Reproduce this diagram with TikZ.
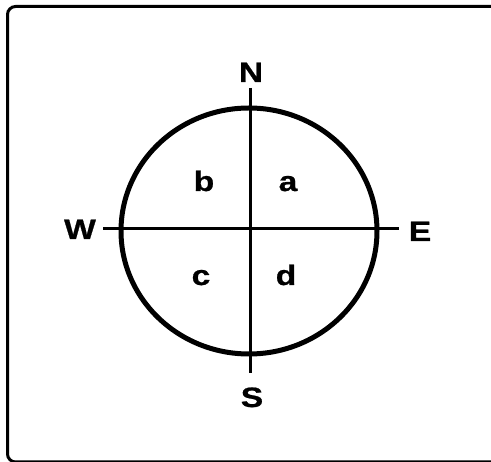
\documentclass[tikz,border=0pt]{standalone}
\usepackage{fontspec}
\setmainfont{Liberation Sans}
\newfontfamily\widefont{Liberation Sans}[FakeStretch=1.2, FakeBold=0.8]
\usetikzlibrary{positioning}

\begin{document}
\begin{tikzpicture}[x=1pt, y=-1pt,
        lbl/.style={font=\widefont\fontsize{28}{28}\selectfont\bfseries,
                    inner sep=0pt, anchor=base},
        axis/.style={line width=3pt},
        rim/.style={line width=5pt},
        frame/.style={line width=3pt, rounded corners=8pt}
      ]
      \clip (0,0) rectangle (491,462);
      \draw[frame] (7.5,6.5) rectangle (505,462);

      % centre and axis ends
      \coordinate (ctr) at (249,231);
      \coordinate (nEnd) at (250,88);
      \coordinate (sEnd) at (250,373);
      \coordinate (wEnd) at (103,229);
      \coordinate (eEnd) at (399,229);

      \draw[rim] (ctr) ellipse [x radius=128, y radius=123];
      \draw[axis] (nEnd) -- (sEnd);
      \draw[axis] (wEnd) -- (eEnd);

      \node[lbl] (north) at (251,82)  {N};
      \node[lbl] (south) at (252,407) {S};
      \node[lbl] (west)  at (80,239)  {W};
      \node[lbl] (east)  at (420,241) {E};

      \node[lbl] (qa) at (288,191) {a};
      \node[lbl] (qb) at (204,191) {b};
      \node[lbl] (qc) at (201,285) {c};
      \node[lbl] (qd) at (286,285) {d};
    \end{tikzpicture}
\end{document}
